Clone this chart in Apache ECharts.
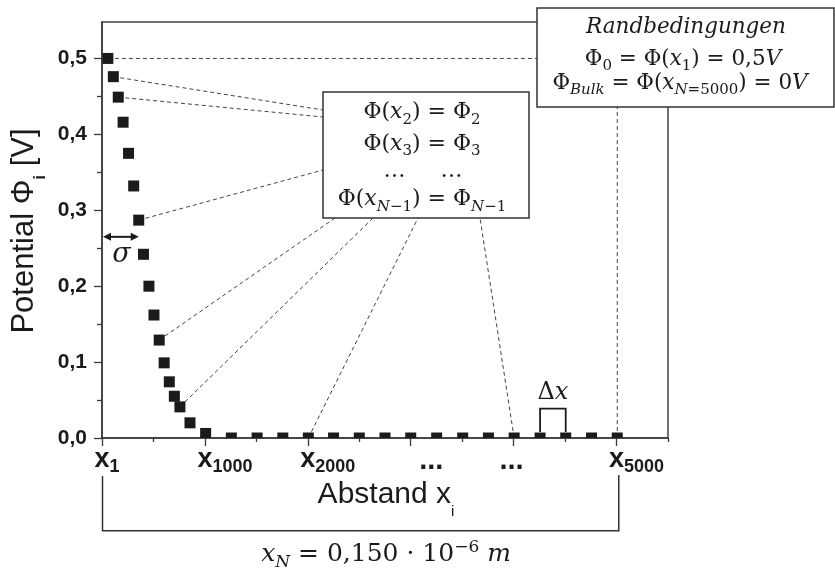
<!DOCTYPE html>
<html><head><meta charset="utf-8">
<script src="https://cdn.jsdelivr.net/npm/echarts@6/dist/echarts.min.js"></script>
<style>html,body{margin:0;padding:0;background:#fff}#c{width:835px;height:569px}</style>
</head><body><div id="c"></div>
<script>
// ---- data ----
const xValues = [57,110,158,205,258,308,357,403,456,505,556,604,654,703,757,855,1007,
  1257,1507,1757,2005,2250,2500,2750,3000,3252,3505,3755,4005,4257,4506,4757,5007];
const phiValues = [0.500,0.476,0.449,0.416,0.375,0.332,0.287,0.242,0.200,0.162,0.129,0.099,0.074,0.055,0.041,0.020,0.006,
  0,0,0,0,0,0,0,0,0,0,0,0,0,0,0,0];
const yTickValues = [0,0.1,0.2,0.3,0.4,0.5];
const yMinorTickValues = [0.05,0.15,0.25,0.35,0.45];
const xTickValues = [0,1000,2000,3000,4000,5000];
const xMinorTickValues = [500,1500,2500,3500,4500,5500];
const xLabelValues = [0,1000,2000,3200,3980,5000];
const xLabelSubs = ['1','1000','2000','','','5000'];

const chart = echarts.init(document.getElementById('c'));
const INK = '#1b1b1b';
const AX = '#3a3a3a';
const SERIF = '"DejaVu Serif", serif';
const SANS = '"Liberation Sans", Arial, sans-serif';

chart.setOption({
  animation: false,
  backgroundColor: '#fff',
  grid: {left: 102, top: 22, right: 167, bottom: 131, show: true, borderColor: '#444', borderWidth: 1.5,
         containLabel: false, outerBoundsMode: 'none'},
  xAxis: [{
    type: 'value', min: 0, max: 5500, position: 'bottom',
    axisLine: {show: true, lineStyle: {color: AX, width: 1.5}},
    axisTick: {show: true, customValues: xTickValues, length: 8, lineStyle: {color: AX, width: 1.3}},
    splitLine: {show: false},
    axisLabel: {
      customValues: xLabelValues, margin: 8,
      formatter: function (v) {
        let bi = 0, bd = 1e9;
        xLabelValues.forEach((c, i) => { if (Math.abs(c - v) < bd) { bd = Math.abs(c - v); bi = i; } });
        const s = xLabelSubs[bi];
        return s ? '{h|' + s + '}{x|x}{s|' + s + '}' : '{d|...}';
      },
      rich: {
        x: {fontFamily: SANS, fontWeight: 'bold', fontSize: 27, lineHeight: 27, verticalAlign: 'top', color: INK},
        s: {fontFamily: SANS, fontWeight: 'bold', fontSize: 18, lineHeight: 18, verticalAlign: 'top', padding: [12, 0, 0, 0], color: INK},
        h: {fontFamily: SANS, fontWeight: 'bold', fontSize: 18, lineHeight: 18, verticalAlign: 'top', padding: [12, 0, 0, 0], color: 'rgba(0,0,0,0)'},
        d: {fontFamily: SANS, fontWeight: 'bold', fontSize: 29, lineHeight: 20, verticalAlign: 'top', color: INK}
      }
    }
  }, {
    type: 'value', min: 0, max: 5500, position: 'bottom',
    axisLine: {show: false},
    axisTick: {show: true, customValues: xMinorTickValues, length: 4, lineStyle: {color: AX, width: 1.3}},
    axisLabel: {show: false}, splitLine: {show: false}
  }],
  yAxis: [{
    type: 'value', min: 0, max: 0.548, position: 'left',
    axisLine: {show: true, lineStyle: {color: AX, width: 1.5}},
    axisTick: {show: true, customValues: yTickValues, length: 8, lineStyle: {color: AX, width: 1.3}},
    splitLine: {show: false},
    axisLabel: {
      customValues: yTickValues, margin: 15,
      formatter: v => v.toFixed(1).replace('.', ','),
      fontFamily: SANS, fontWeight: 'bold', fontSize: 21, color: INK
    }
  }, {
    type: 'value', min: 0, max: 0.548, position: 'left',
    axisLine: {show: false},
    axisTick: {show: true, customValues: yMinorTickValues, length: 5, lineStyle: {color: AX, width: 1.3}},
    axisLabel: {show: false}, splitLine: {show: false}
  }],
  series: [{
    type: 'custom', clip: true, z: 5,
    xAxisIndex: 0, yAxisIndex: 0,
    encode: {x: 0, y: 1},
    data: xValues.map((x, i) => [x, phiValues[i]]),
    renderItem: function (params, api) {
      const p = api.coord([api.value(0), api.value(1)]);
      return {type: 'rect', shape: {x: p[0] - 5.5, y: p[1] - 5.5, width: 11, height: 11}, style: {fill: INK}};
    }
  }]
});

// ---- annotations ----
const px = (x, y) => chart.convertToPixel({seriesIndex: 0}, [x, y]);
const K = 0.846;
function mt(tokens, fs, family, opt) {
  opt = opt || {};
  const subF = Math.round(fs * (opt.subScale || 0.68));
  const drop = opt.drop != null ? opt.drop : 0.22 * fs;
  const rise = opt.rise != null ? opt.rise : 0.38 * fs;
  const B = fs;
  const rich = {}; let text = '';
  tokens.forEach((t, i) => {
    const str = t[0], kind = t[1] || 'm', it = !!t[2];
    const f = kind === 'm' ? fs : subF;
    const shift = kind === 'sub' ? drop : (kind === 'sup' ? -rise : 0);
    const pad = Math.max(0, B + shift - K * f);
    rich['t' + i] = {fontFamily: family, fontSize: f, fontStyle: it ? 'italic' : 'normal',
      fontWeight: opt.bold && kind === 'm' ? 'bold' : (opt.subBold && kind !== 'm' ? 'bold' : 'normal'),
      lineHeight: f, verticalAlign: 'top', padding: [pad, 0, 0, 0], fill: opt.color || INK, color: opt.color || INK};
    text += '{t' + i + '|' + str + '}';
  });
  return {text, rich, B};
}
function textEl(tokens, fs, family, cx, baseline, opt, extra) {
  const m = mt(tokens, fs, family, opt);
  return Object.assign({
    type: 'text', x: cx, y: baseline - m.B, z: 20,
    style: {text: m.text, rich: m.rich, align: 'center', textAlign: 'center', verticalAlign: 'top', textVerticalAlign: 'top'}
  }, extra || {});
}
const dash = {stroke: '#444', lineWidth: 1, lineDash: [4, 3], fill: null};
function dline(a, b) { return {type: 'line', z: 1, shape: {x1: a[0], y1: a[1], x2: b[0], y2: b[1]}, style: dash}; }
function pt(i) { return px(xValues[i], phiValues[i]); }
const last = xValues.length - 1;
const idx2000 = xValues.indexOf(2005), idx4000 = xValues.indexOf(4005);
const i4250 = xValues.indexOf(4257), i4500 = xValues.indexOf(4506);

const g = [];
// dashed leader lines
g.push(dline(pt(0), [537, pt(0)[1]]));
g.push(dline(pt(1), [323, 110]));
g.push(dline(pt(2), [323, 117]));
g.push(dline(pt(6), [323, 170]));
g.push(dline(pt(10), [335, 218]));
g.push(dline(pt(14), [373, 218]));
g.push(dline(pt(idx2000), [418, 218]));
g.push(dline(pt(idx4000), [480, 218]));
g.push(dline(pt(last), [pt(last)[0], 107]));

// boxes
const boxStyle = {fill: '#fff', stroke: '#333', lineWidth: 1.5};
g.push({type: 'rect', z: 15, shape: {x: 537, y: 8, width: 297, height: 99}, style: boxStyle});
g.push({type: 'rect', z: 15, shape: {x: 323, y: 92, width: 206, height: 126}, style: boxStyle});

// box 1 text
g.push(textEl([['Randbedingungen', 'm', true]], 21.5, SERIF, 686, 35));
g.push(textEl([['Φ'], ['0', 'sub'], [' = Φ('], ['x', 'm', true], ['1', 'sub'], [') = 0,5'], ['V', 'm', true]], 21.5, SERIF, 683, 66.5));
g.push(textEl([['Φ'], ['Bulk', 'sub', true], [' = Φ('], ['x', 'm', true], ['N', 'sub', true], ['=5000', 'sub'], [') = 0'], ['V', 'm', true]], 21.5, SERIF, 680, 91));
// box 2 text
g.push(textEl([['Φ('], ['x', 'm', true], ['2', 'sub'], [') = Φ'], ['2', 'sub']], 22, SERIF, 422, 120));
g.push(textEl([['Φ('], ['x', 'm', true], ['3', 'sub'], [') = Φ'], ['3', 'sub']], 22, SERIF, 422, 151.5));
g.push(textEl([['…     …']], 22, SERIF, 423, 179));
g.push(textEl([['Φ('], ['x', 'm', true], ['N', 'sub', true], ['−1', 'sub'], [') = Φ'], ['N', 'sub', true], ['−1', 'sub']], 22, SERIF, 422, 207));

// sigma arrow
const sa = px(0, 0.265), sb = px(xValues[6], 0.265);
g.push({type: 'line', z: 20, shape: {x1: sa[0] + 6, y1: sa[1], x2: sb[0] - 6, y2: sb[1]}, style: {stroke: INK, lineWidth: 2}});
g.push({type: 'polygon', z: 20, shape: {points: [[sa[0] + 1, sa[1]], [sa[0] + 9, sa[1] - 4], [sa[0] + 9, sa[1] + 4]]}, style: {fill: INK}});
g.push({type: 'polygon', z: 20, shape: {points: [[sb[0], sb[1]], [sb[0] - 8, sb[1] - 4], [sb[0] - 8, sb[1] + 4]]}, style: {fill: INK}});
g.push(textEl([['σ', 'm', true]], 27, SERIF, (sa[0] + sb[0]) / 2 + 1, sa[1] + 27));

// delta x bracket
const da = px(xValues[i4250], 0.0387), db = px(xValues[i4500], 0.0387);
const dBottom = px(0, 0)[1] - 6;
g.push({type: 'polyline', z: 20, shape: {points: [[da[0], dBottom], [da[0], da[1]], [db[0], db[1]], [db[0], dBottom]]}, style: {stroke: INK, lineWidth: 1.8, fill: null}});
g.push(textEl([['Δ'], ['x', 'm', true]], 24, SERIF, (da[0] + db[0]) / 2, da[1] - 8));

// bottom bracket
const bl = px(0, 0)[0] + 0.5, br = pt(last)[0] + 1.5;
g.push({type: 'polyline', z: 20, shape: {points: [[bl, 476], [bl, 530.7], [br, 530.7], [br, 475]]}, style: {stroke: '#333', lineWidth: 1.5, fill: null}});
g.push(textEl([['x', 'm', true], ['N', 'sub', true], [' = 0,150 · 10'], ['−6', 'sup'], [' '], ['m', 'm', true]], 25, SERIF, 386, 563));

// axis titles
g.push(textEl([['Abstand x'], ['i', 'sub']], 30, SANS, 386, 505, {subScale: 0.5, drop: 12}));
g.push(Object.assign(textEl([['Potential Φ'], ['i', 'sub'], [' [V]']], 31, SANS, 0, 0, {subScale: 0.55, drop: 11, subBold: true}),
  {x: 4, y: 231, rotation: Math.PI / 2}));

chart.setOption({graphic: {elements: g}});
</script>
</body></html>
